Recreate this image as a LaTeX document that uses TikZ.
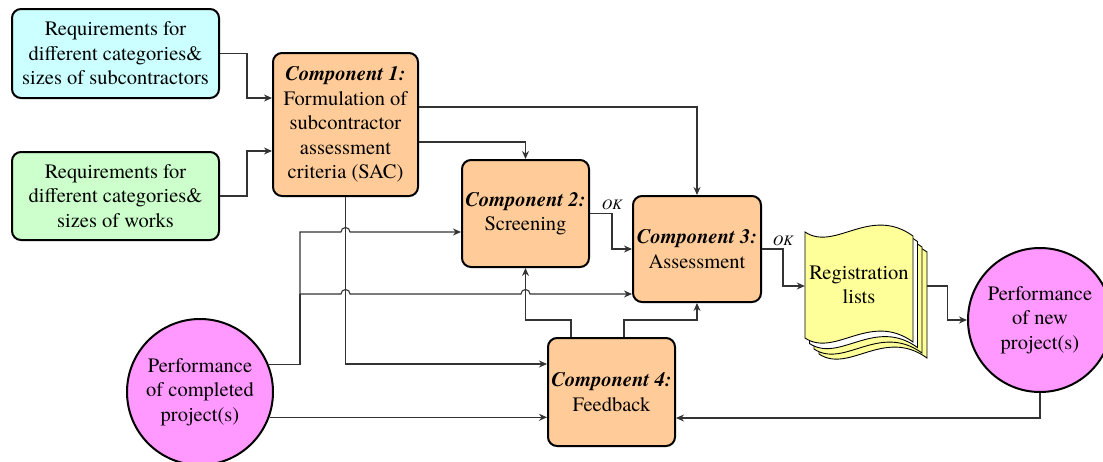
\documentclass[tikz,border=0pt]{standalone}
\usepackage{fontspec}
\setmainfont{texgyretermes}[Extension=.otf, UprightFont=*-regular, BoldFont=*-bold, ItalicFont=*-italic, BoldItalicFont=*-bolditalic]
\usetikzlibrary{arrows.meta,calc}
\definecolor{cyanbox}{HTML}{CCFFFF}
\definecolor{greenbox}{HTML}{CCFFCC}
\definecolor{orangebox}{HTML}{FFCC99}
\definecolor{pinkc}{HTML}{FF99FF}
\definecolor{docyellow}{HTML}{FFFF99}
\begin{document}
\begin{tikzpicture}[x=1pt,y=-1pt,
  txt/.style={font=\fontsize{20.5}{24.5}\selectfont, align=center},
  box/.style={txt, draw=black, line width=2pt, rounded corners=9pt, inner sep=2pt},
  compbox/.style={box, fill=orangebox},
  circ/.style={txt, circle, draw=black, line width=2pt, fill=pinkc, inner sep=0pt},
  conn/.style={draw=black!80, line width=1.1pt},
  arr/.style={conn, -{Stealth[length=8pt,width=7pt]}},
  oklab/.style={font=\fontsize{14.5}{17}\selectfont\itshape, inner sep=2pt},
  docpage/.style={draw=black, line width=0.9pt}
]
\useasboundingbox (0,0) rectangle (1103,461);

% input requirement boxes
\node[box, fill=cyanbox, minimum width=207pt, minimum height=89pt] (req1) at (115.5,53.5)
  {Requirements for\\different categories\&\\sizes of subcontractors};
\node[box, fill=greenbox, minimum width=207pt, minimum height=88pt] (req2) at (115.5,196)
  {Requirements for\\different categories\&\\sizes of works};

% components
\node[compbox, minimum width=145pt, minimum height=143pt] (c1) at (345.5,124.5)
  {{\bfseries\itshape Component 1:}\\Formulation of\\subcontractor\\assessment\\criteria (SAC)};
\node[compbox, minimum width=127pt, minimum height=107pt] (c2) at (525.5,213.5)
  {{\bfseries\itshape Component 2:}\\Screening};
\node[compbox, minimum width=128pt, minimum height=106pt] (c3) at (697,249)
  {{\bfseries\itshape Component 3:}\\Assessment};
\node[compbox, minimum width=127pt, minimum height=108pt] (c4) at (611.5,392)
  {{\bfseries\itshape Component 4:}\\Feedback};

% circles
\node[circ, minimum size=146pt] (comp) at (200,392) {Performance\\of completed\\project(s)};
\node[circ, minimum size=144pt] (new) at (1040,320) {Performance\\of new\\project(s)};

% document stack (Registration lists)
\foreach \dx/\dy/\fc in {14/16/docyellow, 9/11/docyellow, 4.5/5.5/white, 0/0/docyellow}{
  \begin{scope}[shift={(\dx,\dy)}]
    \draw[docpage, fill=\fc] (805,232) .. controls (835,252) and (870,205) .. (913,236)
      -- (913,342) .. controls (870,311) and (835,358) .. (805,338) -- cycle;
  \end{scope}
}
\node[txt, minimum width=108pt, minimum height=106pt, inner sep=0pt] (doc) at (859,285)
  {Registration\\lists};

% connectors
\draw[arr] (req1.east) -- ++(27,0) |- ([yshift=26.5pt]c1.west);
\draw[arr] (req2.east) -- ++(27,0) |- ([yshift=-26.5pt]c1.west);
\draw[arr] ([yshift=17.5pt]c1.east) -| (c3.north);
\draw[arr] ([yshift=-17.5pt]c1.east) -| (c2.north);
\draw[arr] (c2.east) -- node[oklab, above, pos=1, yshift=1pt] {OK} ++(22,0) |- (c3.west);
\draw[arr] (c3.east) -- node[oklab, above, pos=1, yshift=1pt] {OK} ++(21,0) |- ([yshift=-1pt]doc.west);
\draw[arr] ([xshift=14pt,yshift=-1pt]doc.east) -- ++(20,0) |- (new.west);
\draw[arr] (new.south) |- ([yshift=-26pt]c4.east);
\draw[arr] (c1.south) |- ([yshift=28pt]c4.west);
\draw[arr] (comp.-20) -- (comp.-20 -| c4.west);

\coordinate (sp) at (300,294);
\draw[conn] (comp.22.5) -| (sp);
\draw[arr] (sp) -- (341,294) arc (180:360:4.5) -- (521,294) arc (180:360:4.5)
  -- ([yshift=-45pt]c3.west);
\draw[arr] (sp) -- (300,232) -- (341,232) arc (180:360:4.5) -- ([yshift=-18.5pt]c2.west);

\draw[arr] ([xshift=-40.5pt]c4.north) -- ++(0,-17) -| (c2.south);
\draw[arr] ([xshift=12.5pt]c4.north) -- ++(0,-17) -| (c3.south);
\end{tikzpicture}
\end{document}
